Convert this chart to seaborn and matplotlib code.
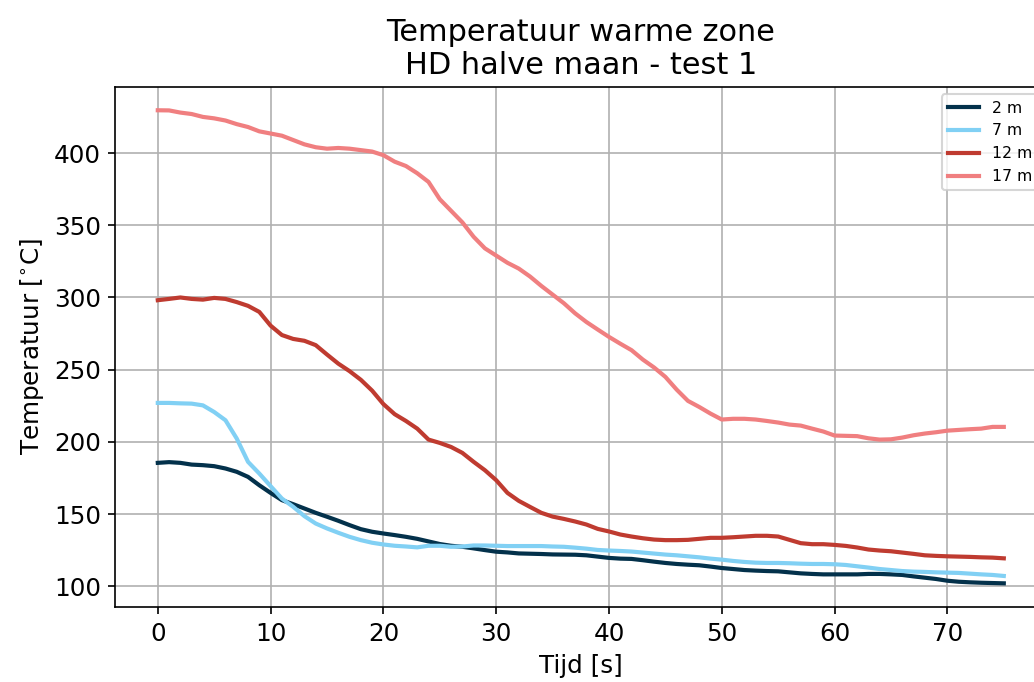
import numpy as np
import pandas as pd
import seaborn as sns
import matplotlib
matplotlib.use("Agg")
import matplotlib.pyplot as plt

# Measured temperatures, one value per second (0..75 s)
tijd = list(range(76))

temp_2m = [185.5, 186, 185.5, 184.3, 183.9, 183.2, 181.6, 179.3, 175.8, 170,
           164.7, 159.7, 156.9, 153.9, 150.9, 148.2, 145.4, 142.4, 139.6, 137.8,
           136.6, 135.5, 134.3, 132.9, 131.1, 129.3, 128.1, 127.4, 126.3, 125.1,
           124, 123.5, 122.8, 122.6, 122.4, 122.1, 122, 121.9, 121.5, 120.6,
           119.7, 119.2, 119, 118.1, 117.1, 116.2, 115.5, 115, 114.6, 113.7,
           112.7, 112, 111.3, 110.9, 110.6, 110.4, 109.7, 109, 108.6, 108.3,
           108.3, 108.3, 108.3, 108.6, 108.6, 108.3, 107.9, 106.9, 106, 105.1,
           103.9, 103.2, 102.8, 102.5, 102.3, 102.1]

temp_7m = [227, 227, 226.7, 226.5, 225.3, 220.7, 215, 202.3, 186.2, 178.1,
           169.4, 160.8, 155.1, 148.6, 143.5, 140.1, 137.1, 134.3, 132, 130.2,
           129, 128.1, 127.6, 127, 128.1, 128.1, 127.4, 127.6, 128.3, 128.3,
           128.1, 127.9, 127.9, 127.9, 127.9, 127.6, 127.4, 126.8, 126.1, 125.2,
           124.8, 124.5, 124.1, 123.4, 122.7, 122, 121.5, 120.8, 120.1, 119.2,
           118.5, 117.6, 116.9, 116.4, 116.2, 116.2, 116, 115.7, 115.5, 115.5,
           115.3, 114.8, 113.9, 113, 112, 111.3, 110.6, 110.2, 110, 109.7,
           109.5, 109.3, 108.8, 108.3, 107.9, 107.2]

temp_12m = [298.1, 299, 300, 299, 298.5, 299.7, 299, 296.8, 294.2, 290,
            280.5, 274, 271.3, 270, 267, 260.5, 254.2, 249, 243, 235.5,
            226.2, 219.2, 214.5, 209.2, 201.6, 199.3, 196.5, 192.4, 186.2, 180.4,
            173.5, 164.7, 159.2, 155, 150.9, 148.3, 146.7, 144.9, 142.8, 139.8,
            138, 135.9, 134.5, 133.3, 132.4, 132, 132, 132.2, 132.9, 133.6,
            133.6, 134, 134.5, 135, 135, 134.5, 132.2, 129.9, 129.2, 129.2,
            128.7, 128, 126.9, 125.5, 124.8, 124.3, 123.4, 122.5, 121.5, 121.1,
            120.8, 120.6, 120.4, 120.1, 119.9, 119.4]

temp_17m = [429.6, 429.5, 428, 427, 425, 424, 422.5, 420, 418, 415,
            413.5, 412, 409, 406, 404, 403, 403.5, 403, 402, 401,
            398.5, 394, 391, 386, 380, 368, 360, 352, 342, 334,
            329, 324, 320, 314.5, 308, 302, 296, 289, 283, 277.8,
            272.7, 268, 263.5, 257, 251.5, 245, 236.2, 228.4, 224.2, 219.6,
            215.5, 216, 216, 215.5, 214.5, 213.4, 212, 211.3, 209.2, 207.2,
            204.4, 204.2, 204, 202.5, 201.6, 201.8, 203, 204.6, 205.8, 206.7,
            207.8, 208.3, 208.8, 209.2, 210.4, 210.4]

labels = ['2 m', '7 m', '12 m', '17 m']
colors = ['#03314b', '#81d0f4', '#bf3b30', '#f07f80']

df = pd.concat([
    pd.DataFrame({'Tijd': tijd, 'Temperatuur': vals, 'Positie': lab})
    for vals, lab in zip([temp_2m, temp_7m, temp_12m, temp_17m], labels)
])

fig = plt.figure(figsize=(1034 / 150, 682 / 150), dpi=150)
# axes runs a bit past the right edge, like the cropped original
ax = fig.add_axes([0.1117, 0.110, 0.900, 0.763])

sns.lineplot(data=df, x='Tijd', y='Temperatuur', hue='Positie',
             palette=dict(zip(labels, colors)), linewidth=2, ax=ax)

ax.grid(True, color='#b0b0b0', linewidth=0.8)
ax.set_xticks([0, 10, 20, 30, 40, 50, 60, 70])
ax.set_yticks([100, 150, 200, 250, 300, 350, 400])
ax.tick_params(labelsize=11.8)
ax.set_xlabel('Tijd [s]', fontsize=11.8)
ax.set_ylabel(r'Temperatuur [$^{\circ}$C]', fontsize=11.8)
ax.set_title('Temperatuur warme zone\nHD halve maan - test 1', fontsize=14.6)
ax.legend(loc='upper right', fontsize=7.5)

fig.savefig('out.png', dpi=150)
